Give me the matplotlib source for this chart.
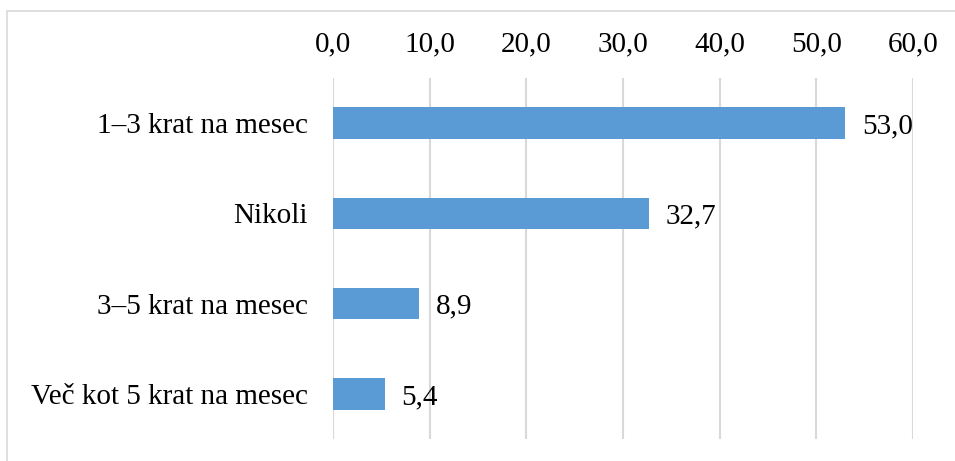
import matplotlib.pyplot as plt
from matplotlib.patches import Rectangle

# pogostost, od najvecjega navzdol
categories = ["1–3 krat na mesec", "Nikoli", "3–5 krat na mesec", "Več kot 5 krat na mesec"]
values = [53.0, 32.7, 8.9, 5.4]
ticks = [0, 10, 20, 30, 40, 50, 60]
tick_labels = ["0,0", "10,0", "20,0", "30,0", "40,0", "50,0", "60,0"]

plt.rcParams["font.family"] = ["Liberation Serif", "DejaVu Serif"]
fs = 21

fig = plt.figure(figsize=(9.55, 4.61), dpi=100)
ax = fig.add_axes([333 / 955, 1 - 439 / 461, (913 - 333) / 955, (439 - 78) / 461])

ypos = list(range(len(categories)))
ax.barh(ypos, values, height=0.35, color="#5B9BD5", zorder=3)
for y, v in zip(ypos, values):
    ax.text(v + 1.7, y, f"{v:.1f}".replace(".", ","), va="center_baseline", ha="left",
            fontsize=fs, color="black", zorder=4)

ax.set_xlim(0, 60)
ax.set_ylim(len(categories) - 0.5, -0.5)
ax.set_xticks(ticks)
ax.set_xticklabels(tick_labels, fontsize=fs)
ax.set_yticks(ypos)
ax.set_yticklabels(categories, fontsize=fs, va="center_baseline")
ax.xaxis.tick_top()
ax.tick_params(axis="x", length=0, pad=15)
ax.tick_params(axis="y", length=0, pad=18)
ax.grid(axis="x", color="#D9D9D9", linewidth=1.5, zorder=0)
for s in ax.spines.values():
    s.set_visible(False)

# okvir grafikona
fig.patches.append(Rectangle((7 / 955, -0.1), 1.2, 1 - 11 / 461 + 0.1,
                             transform=fig.transFigure, fill=False,
                             edgecolor="#D9D9D9", linewidth=1.2))

fig.savefig("out.png", dpi=100)
